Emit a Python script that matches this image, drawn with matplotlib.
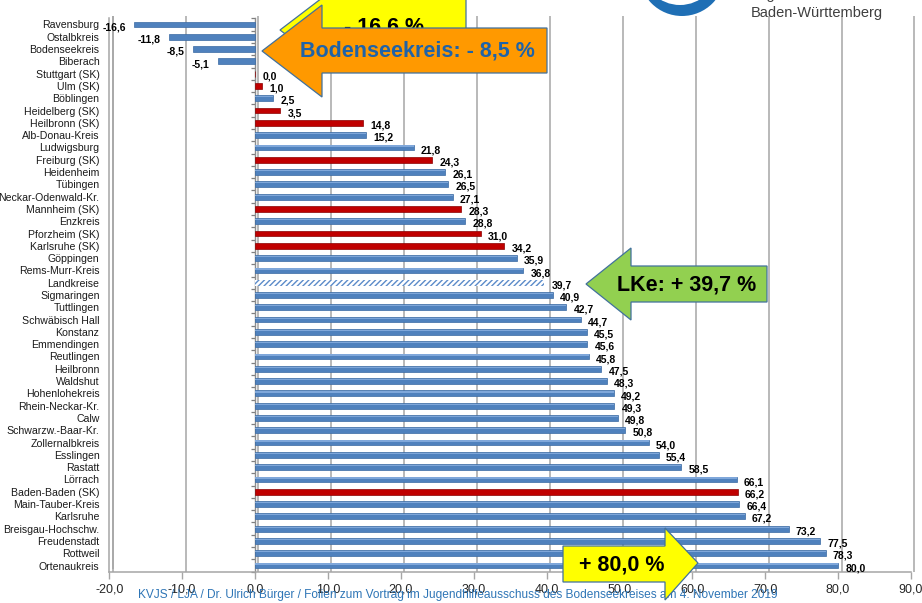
import matplotlib
matplotlib.use("Agg")
import matplotlib.pyplot as plt
import numpy as np
from matplotlib.patches import Polygon, Circle
from matplotlib.transforms import Affine2D, ScaledTranslation

plt.rcParams["font.family"] = ["Liberation Sans", "DejaVu Sans"]
plt.rcParams["hatch.linewidth"] = 1.0

# Veränderung in Prozent je Kreis (SK = Stadtkreis, LK = Landkreis, AVG = Landkreise gesamt)
regions = [
    "Ravensburg", "Ostalbkreis", "Bodenseekreis", "Biberach", "Stuttgart (SK)",
    "Ulm (SK)", "Böblingen", "Heidelberg (SK)", "Heilbronn (SK)", "Alb-Donau-Kreis",
    "Ludwigsburg", "Freiburg (SK)", "Heidenheim", "Tübingen", "Neckar-Odenwald-Kr.",
    "Mannheim (SK)", "Enzkreis", "Pforzheim (SK)", "Karlsruhe (SK)", "Göppingen",
    "Rems-Murr-Kreis", "Landkreise", "Sigmaringen", "Tuttlingen", "Schwäbisch Hall",
    "Konstanz", "Emmendingen", "Reutlingen", "Heilbronn", "Waldshut",
    "Hohenlohekreis", "Rhein-Neckar-Kr.", "Calw", "Schwarzw.-Baar-Kr.", "Zollernalbkreis",
    "Esslingen", "Rastatt", "Lörrach", "Baden-Baden (SK)", "Main-Tauber-Kreis",
    "Karlsruhe", "Breisgau-Hochschw.", "Freudenstadt", "Rottweil", "Ortenaukreis",
]
values = [
    -16.6, -11.8, -8.5, -5.1, 0.0,
    1.0, 2.5, 3.5, 14.8, 15.2,
    21.8, 24.3, 26.1, 26.5, 27.1,
    28.3, 28.8, 31.0, 34.2, 35.9,
    36.8, 39.7, 40.9, 42.7, 44.7,
    45.5, 45.6, 45.8, 47.5, 48.3,
    49.2, 49.3, 49.8, 50.8, 54.0,
    55.4, 58.5, 66.1, 66.2, 66.4,
    67.2, 73.2, 77.5, 78.3, 80.0,
]
kinds = [
    "LK", "LK", "LK", "LK", "SK",
    "SK", "LK", "SK", "SK", "LK",
    "LK", "SK", "LK", "LK", "LK",
    "SK", "LK", "SK", "SK", "LK",
    "LK", "AVG", "LK", "LK", "LK",
    "LK", "LK", "LK", "LK", "LK",
    "LK", "LK", "LK", "LK", "LK",
    "LK", "LK", "LK", "SK", "LK",
    "LK", "LK", "LK", "LK", "LK",
]
x_ticks = [-20, -10, 0, 10, 20, 30, 40, 50, 60, 70, 80, 90]

callout_low = "- 16,6 %"
callout_own = "Bodenseekreis: - 8,5 %"
callout_avg = "LKe: + 39,7 %"
callout_high = "+ 80,0 %"
footer = ("KVJS / LJA / Dr. Ulrich Bürger / Folien zum Vortrag im "
          "Jugendhilfeausschuss des Bodenseekreises am 4. November 2019")

BLUE = "#4F81BD"
RED = "#C00000"
GRID = "#A6A6A6"

W, H = 922, 603
fig = plt.figure(figsize=(W / 100, H / 100), dpi=100)
fig.patch.set_facecolor("white")

ax = fig.add_axes([109.2 / W, 1 - 571.65 / H, (911 - 109.2) / W, (571.65 - 18.35) / H])
n = len(regions)
ypos = np.arange(n)

def de(v):
    return f"{v:.1f}".replace(".", ",")

# back-wall gridlines, shifted a few pixels to the right (3D depth)
depth = ScaledTranslation(3.5 / 100, 0, fig.dpi_scale_trans)
ax.vlines(x_ticks, 0, 1.005, color=GRID, lw=1.1, zorder=0.5,
          transform=ax.get_xaxis_transform() + depth, clip_on=False)
# second line of the left wall
ax.vlines([x_ticks[0]], 0.004, 1.005, color=GRID, lw=1.1, zorder=0.5,
          transform=ax.get_xaxis_transform() + ScaledTranslation(4 / 100, 0, fig.dpi_scale_trans),
          clip_on=False)

for i, (v, k) in enumerate(zip(values, kinds)):
    if k == "AVG":
        ax.barh(i, v, height=0.47, facecolor="white", edgecolor="#5B8BC9",
                hatch="//////", linewidth=0, zorder=2)
    else:
        col = RED if k == "SK" else BLUE
        edge = "#8B0000" if k == "SK" else "#3A6AA3"
        ax.barh(i, v, height=0.47, color=col, edgecolor=edge, linewidth=0.5, zorder=2)
        if v > 0 and k != "SK":
            # light upper edge of the rounded bar
            ax.barh(i - 0.12, v, height=0.1, color="#7FA7DA", linewidth=0, zorder=2.1)
    if v >= 0:
        ax.annotate(de(v), (v, i), xytext=(5.2, -1.9), textcoords="offset points",
                    ha="left", va="center", fontsize=7.5, fontweight="bold", zorder=3)
    else:
        ax.annotate(de(v), (v, i), xytext=(-6, -1.9), textcoords="offset points",
                    ha="right", va="center", fontsize=7.5, fontweight="bold", zorder=3)

ax.set_xlim(x_ticks[0], x_ticks[-1])
ax.set_ylim(n - 0.5, -0.5)
ax.set_xticks(x_ticks)
ax.set_xticklabels([de(t) for t in x_ticks], fontsize=9, color="#262626")
ax.set_yticks(ypos)
ax.set_yticklabels(regions, fontsize=7.6, color="#1a1a1a")
ax.tick_params(axis="y", length=0, pad=7)
ax.tick_params(axis="x", length=5, width=1, color=GRID, pad=3.5, direction="out")
for s in ("top", "right"):
    ax.spines[s].set_visible(False)
ax.spines["left"].set_color(GRID)
ax.spines["bottom"].set_color(GRID)
ax.spines["left"].set_linewidth(1.1)
ax.spines["bottom"].set_linewidth(1.1)
ax.set_facecolor("none")

# category axis at zero with small ticks between the bars
zero_frac = (0 - x_ticks[0]) / (x_ticks[-1] - x_ticks[0])
sec = ax.secondary_yaxis(zero_frac)
sec.set_yticks(np.arange(n + 1) - 0.5)
sec.set_yticklabels([])
sec.tick_params(length=3, width=0.9, color="#7F7F7F", direction="out")
sec.spines["left"].set_color("#8C8C8C")
sec.spines["left"].set_linewidth(1.0)

# pixel coordinates (origin top-left) for the callouts
P = Affine2D().scale(1 / W, -1 / H).translate(0, 1) + fig.transFigure

def shape(pts, face, z):
    fig.add_artist(Polygon(pts, closed=True, facecolor=face, edgecolor="#41719C",
                           linewidth=0.9, transform=P, zorder=z, clip_on=False))

# yellow callout, partly covered by the orange one
shape([(280, 30), (322, -2), (322, -10), (466, -10), (466, 60), (322, 60), (322, 62)],
      "#FFFF00", 5)
fig.text(384 / W, 1 - 27 / H, callout_low, ha="center", va="center",
         fontsize=15.5, fontweight="bold", color="black", zorder=6)

shape([(262, 51), (322, 5), (322, 28), (547, 28), (547, 73), (322, 73), (322, 97)],
      "#FF9900", 7)
fig.text(417 / W, 1 - 51.5 / H, callout_own, ha="center", va="center",
         fontsize=15.5, fontweight="bold", color="#1F63A8", zorder=8)

shape([(586, 284), (631, 248), (631, 266), (767, 266), (767, 302), (631, 302), (631, 320)],
      "#92D050", 7)
fig.text(687 / W, 1 - 285 / H, callout_avg, ha="center", va="center",
         fontsize=15.5, fontweight="bold", color="black", zorder=8)

fig.text(138 / W, 1 - 595 / H, footer, ha="left", va="center",
         fontsize=8.6, color="#2E75B6", zorder=4)

shape([(563, 546), (665, 546), (665, 528), (698, 563), (665, 600), (665, 582), (563, 582)],
      "#FFFF00", 9)
fig.text(622 / W, 1 - 565 / H, callout_high, ha="center", va="center",
         fontsize=15.5, fontweight="bold", color="black", zorder=10)

# KVJS logo fragment in the top right corner
fig.add_artist(Circle((682, -27), 43, facecolor="#1F6FB5", edgecolor="none",
                      transform=P, zorder=2, clip_on=False))
fig.add_artist(Circle((680, -33), 38, facecolor="white", edgecolor="none",
                      transform=P, zorder=2.5, clip_on=False))
fig.text(751 / W, 1 + 1 / H, "Jugend und Soziales", ha="left", va="baseline",
         fontsize=10.5, color="#3F3F3F", zorder=3)
fig.text(751 / W, 1 - 17 / H, "Baden-Württemberg", ha="left", va="baseline",
         fontsize=10.5, color="#3F3F3F", zorder=3)

fig.savefig("out.png", dpi=100, facecolor="white")
